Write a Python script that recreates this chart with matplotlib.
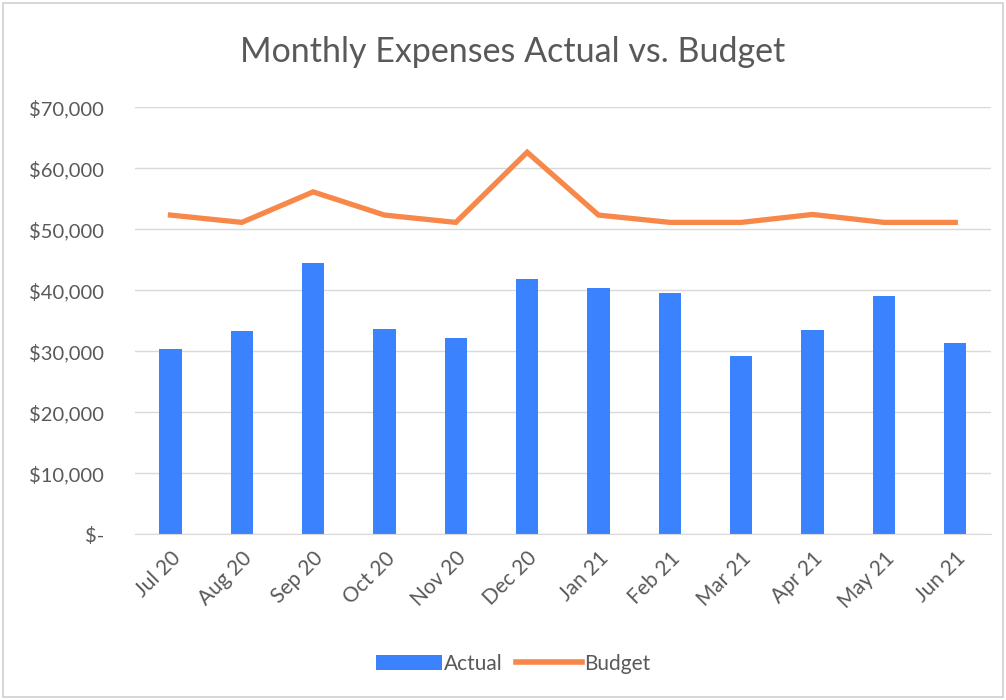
import matplotlib
matplotlib.use("Agg")
import matplotlib.pyplot as plt
from matplotlib.patches import Patch, Rectangle
from matplotlib.lines import Line2D
from matplotlib.ticker import FuncFormatter
import numpy as np

months = ["Jul 20", "Aug 20", "Sep 20", "Oct 20", "Nov 20", "Dec 20",
          "Jan 21", "Feb 21", "Mar 21", "Apr 21", "May 21", "Jun 21"]
actual = [30300, 33300, 44500, 33600, 32200, 41800,
          40300, 39600, 29200, 33400, 39000, 31400]
budget = [52300, 51100, 56100, 52300, 51100, 62600,
          52300, 51100, 51100, 52400, 51100, 51100]
yticks = [0, 10000, 20000, 30000, 40000, 50000, 60000, 70000]

plt.rcParams['font.family'] = ['Lato', 'DejaVu Sans']
txt = '#595959'
blue = '#3B82FF'
orange = '#F7884A'

fig = plt.figure(figsize=(10.06, 7.0), dpi=100)
ax = fig.add_axes([0.134, 0.237, 0.851, 0.610])

x = np.arange(len(months))
ax.bar(x, actual, width=0.31, color=blue, zorder=2, label='Actual')
ax.plot(x, budget, color=orange, lw=3.8, zorder=3, label='Budget',
        solid_joinstyle='miter')

ax.set_xlim(-0.5, len(months) - 0.5)
ax.set_ylim(0, 70000)
ax.set_yticks(yticks)
ax.yaxis.set_major_formatter(FuncFormatter(lambda v, p: "$-" if v == 0 else f"${v:,.0f}"))
ax.set_xticks(x)
ax.set_xticklabels(months, rotation=45, ha='right', rotation_mode='anchor')
ax.tick_params(axis='y', length=0, colors=txt, labelsize=14.5, pad=22)
ax.tick_params(axis='x', length=0, colors=txt, labelsize=15, pad=10)
ax.grid(axis='y', color='#D9D9D9', lw=1)
ax.set_axisbelow(True)
for s in ax.spines.values():
    s.set_visible(False)
ax.spines['bottom'].set_visible(True)
ax.spines['bottom'].set_color('#D9D9D9')

fig.text(0.51, 0.925, "Monthly Expenses Actual vs. Budget", ha='center', va='center',
         fontsize=24.5, color=txt)

handles = [Patch(facecolor=blue, edgecolor='none', label='Actual'),
           Line2D([0], [0], color=orange, lw=4, label='Budget')]
fig.legend(handles=handles, loc='center', bbox_to_anchor=(0.51, 0.052), ncol=2,
           frameon=False, fontsize=15, handlelength=3.2, handletextpad=0.1,
           columnspacing=0.6, labelcolor=txt)

fig.patches.append(Rectangle((0.003, 0.004), 0.994, 0.992, transform=fig.transFigure,
                             fill=False, edgecolor='#D0D0D0', lw=1.2))

fig.savefig("out.png", dpi=100)
